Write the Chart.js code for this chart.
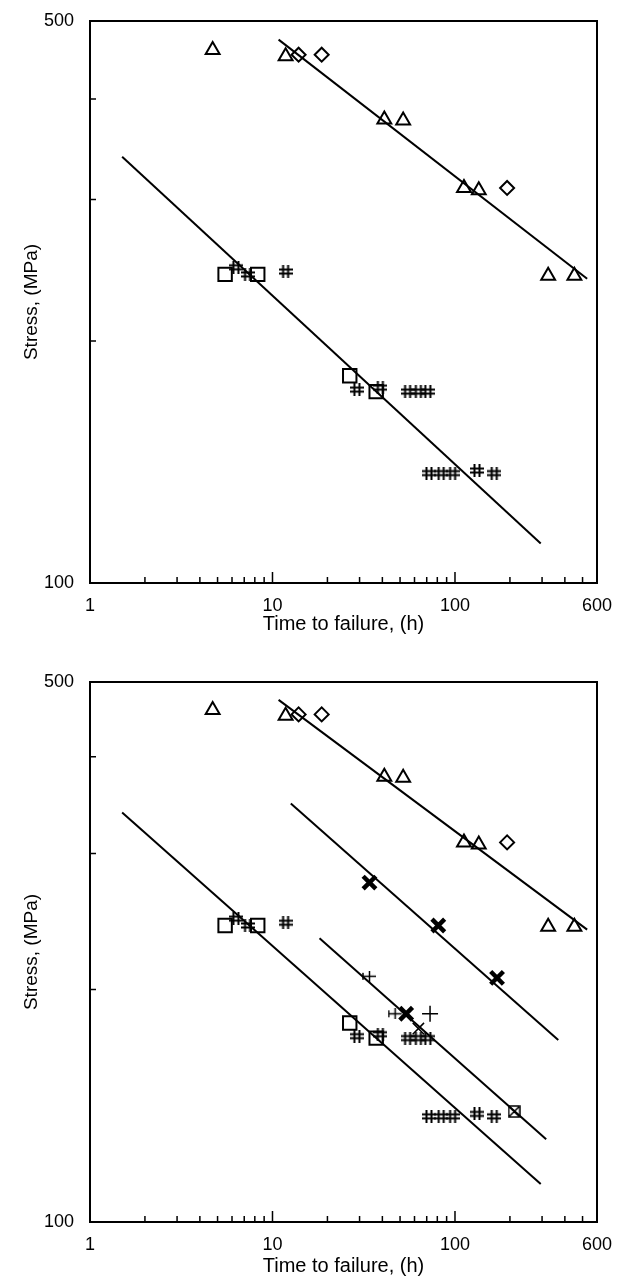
<!DOCTYPE html>
<html>
<head>
<meta charset="utf-8">
<script src="https://cdn.jsdelivr.net/npm/chart.js@4"></script>
<style>
  body { margin: 0; background: #fff; }
  canvas { display: block; }
</style>
</head>
<body>
<canvas id="topChart" width="620" height="640"></canvas>
<canvas id="bottomChart" width="620" height="638"></canvas>
<script>

// axis ticks
var xLabelTicks = [ 1, 10, 100, 600 ];
var yLabelTicks = [ 100, 500 ];
var xMinorTicks = [ 2,3,4,5,6,7,8,9, 20,30,40,50,60,70,80,90, 200,300,400,500 ];
var xMajorTicks = [ 10, 100 ];
var yMinorTicks = [ 200, 300, 400 ];

// time to failure (h) / stress (MPa)
var triT = [ 4.7, 11.8, 41, 52, 112, 135, 324, 451 ];
var triS = [ 460, 452, 377, 376, 310, 308, 241, 241 ];
var diaT = [ 13.9, 18.6, 193 ];
var diaS = [ 454, 454, 310 ];
var sqT  = [ 5.5, 8.3, 26.5, 37 ];
var sqS  = [ 242, 242, 181, 173 ];
var hashT = [ 6.3, 7.3, 11.8, 29, 39, 55, 63, 71, 72, 84, 97, 132, 164 ];
var hashS = [ 247, 242, 244, 174, 175, 173, 173, 173, 137, 137, 137, 138, 137 ];

// extra series, lower chart only
var boldXT = [ 34, 81, 170, 54 ];
var boldXS = [ 275, 242, 207, 186 ];
var barT = [ 34, 47 ];
var barS = [ 208, 186 ];
var plusT = [ 73 ];
var plusS = [ 186 ];
var thinXT = [ 63 ];
var thinXS = [ 178 ];
var boxXT = [ 211 ];
var boxXS = [ 139 ];

// fitted lines (two end points each)
var lineAT = [ 10.8, 530 ], lineAS = [ 474, 239 ];
var lineBT = [ 12.6, 368 ], lineBS = [ 348, 172 ];
var lineCT = [ 18.1, 316 ], lineCS = [ 233, 128 ];
var lineDT = [ 1.5, 295 ],  lineDS = [ 339, 112 ];

const pts = (t,s)=> t.map( (v,i)=>({ x:v, y:s[i] }) );

// custom marker glyphs
function glyph( w,h,draw ){
	var c = document.createElement("canvas");
	c.width = w; c.height = h;
	var g = c.getContext("2d");
	g.strokeStyle = "#000"; g.lineWidth = 2;
	g.beginPath(); draw(g); g.stroke();
	return c;
}
var hashMark = glyph( 14,13, g=>{
	g.moveTo(4.5,0); g.lineTo(4.5,13);
	g.moveTo(9.5,0); g.lineTo(9.5,13);
	g.moveTo(0,4.5); g.lineTo(14,4.5);
	g.moveTo(0,8.5); g.lineTo(14,8.5);
});
var barMark = glyph( 15,11, g=>{
	g.lineWidth = 1.5;
	g.moveTo(1,5.5); g.lineTo(14,5.5);
	g.moveTo(1,2); g.lineTo(1,9);
	g.moveTo(7.5,0); g.lineTo(7.5,11);
});
var boxXMark = glyph( 13,13, g=>{
	g.lineWidth = 1.5;
	g.rect(1,1,11,11);
	g.moveTo(2,2); g.lineTo(11,11);
	g.moveTo(11,2); g.lineTo(2,11);
});

function marks( data,style,radius,width ){
	return { data:data, pointStyle:style, pointRadius:radius, pointHoverRadius:radius,
		borderColor:"#000", backgroundColor:"transparent", pointBorderWidth:width, showLine:false };
}
function fit( t,s ){
	return { data:pts(t,s), showLine:true, pointRadius:0, borderColor:"#000", borderWidth:2, fill:false };
}

const frame = {
	id: "frame",
	afterDraw( chart ){
		var ctx = chart.ctx, a = chart.chartArea, x = chart.scales.x, y = chart.scales.y;
		ctx.save();
		ctx.strokeStyle = "#000";
		ctx.lineWidth = 2;
		ctx.strokeRect( a.left, a.top, a.right-a.left, a.bottom-a.top );
		ctx.lineWidth = 1.5;
		ctx.beginPath();
		xMinorTicks.forEach( v=>{ var p = x.getPixelForValue(v); ctx.moveTo(p,a.bottom); ctx.lineTo(p,a.bottom-6); });
		xMajorTicks.forEach( v=>{ var p = x.getPixelForValue(v); ctx.moveTo(p,a.bottom); ctx.lineTo(p,a.bottom-11); });
		yMinorTicks.forEach( v=>{ var p = y.getPixelForValue(v); ctx.moveTo(a.left,p); ctx.lineTo(a.left+6,p); });
		ctx.stroke();
		ctx.restore();
	}
};

function makeChart( id,datasets,topPad,xHeight,titlePad ){
	return new Chart( id, {
		type: "scatter",
		data: { datasets: datasets },
		options: {
			responsive: false,
			animation: false,
			devicePixelRatio: 1,
			layout: { padding: { left:20, right:23, top:topPad, bottom:0 } },
			plugins: { legend:{display:false}, tooltip:{enabled:false} },
			scales: {
				x: {
					type: "logarithmic", min: 1, max: 600,
					afterBuildTicks: s=>{ s.ticks = xLabelTicks.map( v=>({value:v}) ); },
					afterFit: s=>{ s.height = xHeight; },
					grid: { display:false },
					border: { display:false },
					ticks: { color:"#000", padding:4, maxRotation:0, autoSkip:false,
						font:{ family:"Liberation Sans", size:18 }, callback: v=>String(v) },
					title: { display:true, text:"Time to failure, (h)", color:"#000",
						padding:{ top:0, bottom:titlePad }, font:{ family:"Liberation Sans", size:20 } }
				},
				y: {
					type: "logarithmic", min: 100, max: 500,
					afterBuildTicks: s=>{ s.ticks = yLabelTicks.map( v=>({value:v}) ); },
					afterFit: s=>{ s.width = 70; },
					grid: { display:false },
					border: { display:false },
					ticks: { color:"#000", padding:8, autoSkip:false,
						font:{ family:"Liberation Sans", size:18 }, callback: v=>String(v) },
					title: { display:true, text:"Stress, (MPa)", color:"#000",
						padding:{ top:0, bottom:0 }, font:{ family:"Liberation Sans", size:19 } }
				}
			}
		},
		plugins: [ frame ]
	});
}

window.onload = ()=>{

	var common = [
		marks( pts(triT,triS), "triangle", 8, 2 ),
		marks( pts(diaT,diaS), "rectRot", 7, 2 ),
		marks( pts(sqT,sqS), "rect", 9.5, 2 ),
		marks( pts(hashT,hashS), hashMark, 7, 1 )
	];

	makeChart( "topChart", [
		fit( lineAT,lineAS ),
		fit( lineDT,lineDS )
	].concat( common ), 21, 57, 4 );

	makeChart( "bottomChart", [
		fit( lineAT,lineAS ),
		fit( lineBT,lineBS ),
		fit( lineCT,lineCS ),
		fit( lineDT,lineDS ),
		marks( pts(boldXT,boldXS), "crossRot", 9, 4.5 ),
		marks( pts(barT,barS), barMark, 7, 1 ),
		marks( pts(plusT,plusS), "cross", 8, 1.5 ),
		marks( pts(thinXT,thinXS), "crossRot", 8, 1.5 ),
		marks( pts(boxXT,boxXS), boxXMark, 7, 1 )
	].concat( common ), 42, 56, 0 );
}

</script>
</body>
</html>
